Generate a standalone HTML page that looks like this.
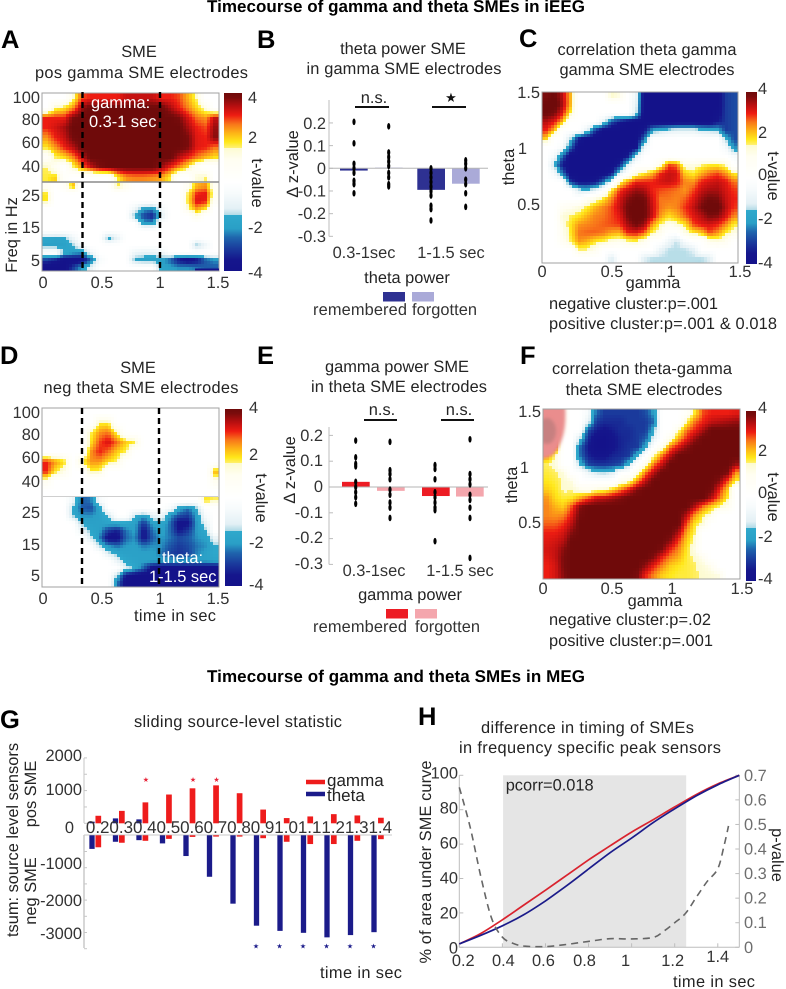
<!DOCTYPE html>
<html lang="en">
<head>
<meta charset="utf-8">
<title>Timecourse of gamma and theta SMEs</title>
<style>
html,body{margin:0;padding:0;background:#fff;overflow:hidden}
svg{display:block}
text{font-family:"Liberation Sans",sans-serif;font-size:16.4px;fill:#242424;text-rendering:geometricPrecision}
.letter{font-size:25.5px;font-weight:bold;fill:#000}
.head{font-size:17px;font-weight:bold;fill:#000}
.tick{fill:#333}
.grey{fill:#6e6e6e}
.mid{text-anchor:middle}
.end{text-anchor:end}
.white{fill:#fff}
</style>
</head>
<body>
<svg id="figure" xmlns="http://www.w3.org/2000/svg" width="786" height="989" viewBox="0 0 786 989">
<defs>
<filter id="soft" x="-20%" y="-20%" width="140%" height="140%"><feGaussianBlur stdDeviation="1.6"/></filter>
<clipPath id="panel-f-clip"><rect x="543" y="409" width="197" height="170"/></clipPath>
</defs>
<rect width="786" height="989" fill="#fff"/>
<g id="marks"></g>

<text class="head mid" x="396" y="12" textLength="378">Timecourse of gamma and theta SMEs in iEEG</text>
<text class="head mid" x="396" y="682" textLength="378">Timecourse of gamma and theta SMEs in MEG</text>

<text class="letter" x="1" y="48">A</text>
<text class="letter" x="257" y="48">B</text>
<text class="letter" x="519" y="47">C</text>
<text class="letter" x="0" y="364">D</text>
<text class="letter" x="257" y="364">E</text>
<text class="letter" x="520" y="364">F</text>
<text class="letter" x="0" y="728">G</text>
<text class="letter" x="418" y="725">H</text>

<!-- Panel A -->
<g>
<text class="mid" x="139" y="57">SME</text>
<text class="mid" x="141.5" y="78" textLength="213">pos gamma SME electrodes</text>
<text class="tick end" x="40" y="103">100</text>
<text class="tick end" x="40" y="125">80</text>
<text class="tick end" x="40" y="148">60</text>
<text class="tick end" x="40" y="172">40</text>
<text class="tick end" x="40" y="201">25</text>
<text class="tick end" x="40" y="233">15</text>
<text class="tick end" x="40" y="266">5</text>
<text class="mid" transform="translate(17 235) rotate(-90)">Freq in Hz</text>
<text class="tick mid" x="43" y="288">0</text>
<text class="tick mid" x="102" y="288">0.5</text>
<text class="tick mid" x="160" y="288">1</text>
<text class="tick mid" x="218" y="288">1.5</text>
<text class="tick" x="248" y="103">4</text>
<text class="tick" x="248" y="143">2</text>
<text class="tick" x="248" y="233">-2</text>
<text class="tick" x="248" y="278">-4</text>
<text class="mid" transform="translate(252 183) rotate(90)">t-value</text>
</g>

<!-- Panel B -->
<g>
<text class="mid" x="403" y="54">theta power SME</text>
<text class="mid" x="404" y="74" textLength="195">in gamma SME electrodes</text>
<text class="tick end" x="326" y="129">0.2</text>
<text class="tick end" x="326" y="151.500">0.1</text>
<text class="tick end" x="326" y="174">0</text>
<text class="tick end" x="326" y="196.500">-0.1</text>
<text class="tick end" x="326" y="219">-0.2</text>
<text class="tick end" x="326" y="242">-0.3</text>
<text class="mid" transform="translate(298 164) rotate(-90)">Δ z-value</text>
<text class="mid" x="374" y="103">n.s.</text>
<text class="mid" style="font-family:'DejaVu Sans',sans-serif;font-size:13px;fill:#111" x="451" y="102">★</text>
<text class="tick mid" x="364" y="258">0.3-1sec</text>
<text class="tick mid" x="451" y="258">1-1.5 sec</text>
<text class="mid" x="407" y="283">theta power</text>
<text class="tick" x="313" y="315" textLength="94">remembered</text>
<text class="tick" x="412" y="315" textLength="65">forgotten</text>
</g>

<!-- Panel C -->
<g>
<text class="mid" x="647" y="55" textLength="179">correlation theta gamma</text>
<text class="mid" x="647" y="75">gamma SME electrodes</text>
<text class="tick end" x="540" y="98">1.5</text>
<text class="tick end" x="527" y="154">1</text>
<text class="tick end" x="540" y="210">0.5</text>
<text class="mid" transform="translate(514 167) rotate(-90)">theta</text>
<text class="tick mid" x="542" y="277">0</text>
<text class="tick mid" x="612" y="277">0.5</text>
<text class="tick mid" x="671" y="277">1</text>
<text class="tick mid" x="740" y="277">1.5</text>
<text class="mid" x="653" y="288">gamma</text>
<text class="tick" x="758" y="94">4</text>
<text class="tick" x="758" y="138">2</text>
<text class="tick" x="758" y="180">0</text>
<text class="tick" x="758" y="224">-2</text>
<text class="tick" x="758" y="268">-4</text>
<text class="mid" transform="translate(768 176) rotate(90)">t-value</text>
<text x="549" y="309" textLength="169">negative cluster:p=.001</text>
<text x="549" y="329" textLength="228">positive cluster:p=.001 &amp; 0.018</text>
</g>

<!-- Panel D -->
<g>
<text class="mid" x="138" y="373">SME</text>
<text class="mid" x="141" y="393" textLength="195">neg theta SME electrodes</text>
<text class="tick end" x="40" y="418">100</text>
<text class="tick end" x="40" y="440">80</text>
<text class="tick end" x="40" y="463">60</text>
<text class="tick end" x="40" y="487">40</text>
<text class="tick end" x="40" y="518">25</text>
<text class="tick end" x="40" y="550">15</text>
<text class="tick end" x="40" y="581">5</text>
<text class="tick mid" x="43" y="604">0</text>
<text class="tick mid" x="102" y="604">0.5</text>
<text class="tick mid" x="160" y="604">1</text>
<text class="tick mid" x="218" y="604">1.5</text>
<text x="134" y="621" textLength="82">time in sec</text>
<text class="tick" x="249" y="413">4</text>
<text class="tick" x="249" y="460">2</text>
<text class="tick" x="249" y="548">-2</text>
<text class="tick" x="249" y="590">-4</text>
<text class="mid" transform="translate(256 498) rotate(90)">t-value</text>
</g>

<!-- Panel E -->
<g>
<text class="mid" x="397" y="372">gamma power SME</text>
<text class="mid" x="399" y="392" textLength="176">in theta SME electrodes</text>
<text class="tick end" x="323" y="441">0.2</text>
<text class="tick end" x="323" y="466">0.1</text>
<text class="tick end" x="323" y="492">0</text>
<text class="tick end" x="323" y="518">-0.1</text>
<text class="tick end" x="323" y="543">-0.2</text>
<text class="tick end" x="323" y="569">-0.3</text>
<text class="mid" transform="translate(295 470) rotate(-90)">Δ z-value</text>
<text class="mid" x="382" y="415">n.s.</text>
<text class="mid" x="459" y="415">n.s.</text>
<text class="tick mid" x="374" y="576">0.3-1sec</text>
<text class="tick mid" x="460" y="576">1-1.5 sec</text>
<text class="mid" x="410" y="600">gamma power</text>
<text class="tick" x="313" y="632" textLength="94">remembered</text>
<text class="tick" x="415" y="632" textLength="65">forgotten</text>
</g>

<!-- Panel F -->
<g>
<text class="mid" x="642" y="374" textLength="180">correlation theta-gamma</text>
<text class="mid" x="644" y="395">theta SME electrodes</text>
<text class="tick end" x="541" y="417">1.5</text>
<text class="tick end" x="529" y="473">1</text>
<text class="tick end" x="541" y="528">0.5</text>
<text class="mid" transform="translate(517 485) rotate(-90)">theta</text>
<text class="tick mid" x="543" y="594">0</text>
<text class="tick mid" x="612" y="594">0.5</text>
<text class="tick mid" x="672" y="594">1</text>
<text class="tick mid" x="742" y="594">1.5</text>
<text class="mid" x="655" y="606">gamma</text>
<text class="tick" x="758" y="413">4</text>
<text class="tick" x="758" y="456">2</text>
<text class="tick" x="758" y="498">0</text>
<text class="tick" x="758" y="542">-2</text>
<text class="tick" x="758" y="584">-4</text>
<text class="mid" transform="translate(768 497) rotate(90)">t-value</text>
<text x="549" y="625" textLength="162">negative cluster:p=.02</text>
<text x="549" y="646" textLength="164">positive cluster:p=.001</text>
</g>

<!-- Panel G -->
<g>
<text x="134" y="727" textLength="208">sliding source-level statistic</text>
<text class="mid" transform="translate(18 840) rotate(-90)">tsum: source level sensors</text>
<text class="mid" transform="translate(36 794) rotate(-90)">pos SME</text>
<text class="mid" transform="translate(36 891) rotate(-90)">neg SME</text>
<text class="tick end" x="82" y="761">2000</text>
<text class="tick end" x="82" y="795">1000</text>
<text class="tick end" x="74" y="833">0</text>
<text class="tick end" x="82" y="869">-1000</text>
<text class="tick end" x="82" y="906">-2000</text>
<text class="tick end" x="82" y="939">-3000</text>
<text style="font-size:17px" x="327" y="786">gamma</text>
<text style="font-size:17px" x="327" y="801">theta</text>
<text x="320" y="978" textLength="82">time in sec</text>
</g>

<!-- Panel H -->
<g>
<text class="mid" x="587.500" y="733" textLength="213">difference in timing of SMEs</text>
<text class="mid" x="590" y="753" textLength="262">in frequency specific peak sensors</text>
<text class="mid" transform="translate(431 862) rotate(-90)" textLength="203">% of area under SME curve</text>
<text class="mid" transform="translate(772 855) rotate(90)">p-value</text>
<text x="673" y="987" textLength="82">time in sec</text>
</g>
<g id="top-marks"></g>
</svg>

<script>
/* ---------- heatmap t-values ---------- */
const panelAGamma = [
[0,0,0,1.4,2.8,3,3,3,3,3.3,3.3,3.3,3.3,3,3,2.8,2.2,1.5,0,0],
[0,1.5,1.8,2.4,3.6,4,4,4,4,4,4,4,4,4,3.5,3,2.5,1.9,1.2,0],
[3,3,3,3.8,4,4,4,4,4,4,4,4,4,4,4,3.8,3.2,2.6,2.4,3.3],
[3,3.2,3.5,4,4,4,4,4,4,4,4,4,4,4,4,4,3.5,3,2.8,3.6],
[2.4,3,3.3,3.9,4,4,4,4,4,4,4,4,4,4,4,4,3.8,3.1,3,3.7],
[1.8,2.4,3,3.4,4,4,4,4,4,4,4,4,4,4,4,4,3.8,3.1,3,2.6],
[0.5,1.6,1.9,2.5,3.3,4,4,4,4,4,4,4,4,4,4,3.4,3,2.6,2.2,1.9],
[1.6,0.8,0,1.5,2.5,3.3,3.8,4,4,4,4,4,4,3.6,3,2.5,1.8,0.5,0,0],
[1.7,2,0.5,0,0,0,0,0,1.7,2.4,2.5,2.5,2.4,2.3,1.7,0,0,1.4,1.6,0]
];
const panelATheta = [
[0.8,0,0.6,2.2,0,0,0,0,1.8,0.9,0,0,0,0,0,0,1,2.2,2.4,0.8],
[1.8,0,0,0,0,0,0,0,0,0,0,0,0,0,0,0,1.7,3,3.1,1],
[1.8,0,0,0,0,0,0,0,0,0,0,0,0,0,0,0,1.8,3.2,3,0.6],
[0,0,0,0,0,0,0,0,0,0,-0.8,-2,-2.2,-0.6,0,0,1.5,2.4,1.8,0],
[0,0,0,0,0,0,0,0,0,0,-1.9,-2.9,-3.4,-1.2,0,0,0,1.2,0,0],
[0,0,0,0,0,0,0,0,0,0,0,-2,-2,0,0,0,0,0,0,0],
[0,0,0,0,0,0,0,0,0,0,0,0,0,0,0,0,0,0,0,0],
[-1.6,-1.8,-1.7,-0.8,0,0,0,-1.8,-1,0,0,0,0,0,0,0,0,0,0,0],
[-2,-2,-2,-1.6,-0.6,0,0,0,0,0,0,0,0,0,0,0,0,-1.7,-0.8,0],
[0,0,-1.6,-2,-2.2,-0.8,0,0,0,0,-0.8,-1,-1,-0.8,0,0,0,0,0,0],
[-3,-3.4,-4,-4,-4,-2.6,-0.5,0,0,0,-1.8,-2,-2,-2,-2.6,-3.6,-4,-3.6,-2.6,-2.2],
[-4,-4,-4,-3,-2,-1,0,0,0,0,0,0,0,-1.8,-2,-2.2,-2.2,-2.4,-2.6,-2.6]
];
const panelCCorrelation = [
[3.8,4,3.4,2.2,0,0,0,0,1.6,1.2,0,-0.8,-4,-4,-4,-4,-4,-4,-4,-4,-4,-4,-3,-2.8],
[4,4.2,3.5,2.2,0,0,0,0,0,0,0,-1,-4,-4,-4,-4,-4,-4,-4,-4,-4,-4,-3,-2.8],
[4,3.8,3.1,1.7,0,0,0,0,0,0,0,-1.2,-4,-4,-4,-4,-4,-4,-4,-4,-4,-3.8,-3,-2.8],
[3.4,3.1,2.2,0,0,0,0,-1,-2.8,-3.5,-4,-4,-4,-4,-4,-4,-4,-4,-4,-4,-4,-3.5,-3,-2.8],
[3,2.2,0,0,0,-1,-3,-4,-4,-4,-4,-4,-3.6,-2,-1.6,-1.2,-1,-1,-1,-1.4,-1.6,-1.7,-3,-2.8],
[2,0,0,-1.5,-3.5,-4,-4,-4,-4,-4,-4,-4,-2.5,0,0,0,0,0,0,0,0,0,-1.6,-2.8],
[0,0,-0.5,-2.5,-4,-4,-4,-4,-4,-4,-4,-3.8,-0.8,0,0,0,0,0,0,0,0,0,-0.5,-2.2],
[0,-0.5,-2.5,-4,-4,-4,-4,-4,-4,-4,-3.5,-1.2,0,0,0,0,0,0,0,0,0,0,0,-0.5],
[0,-1.6,-3.5,-4,-4,-4,-4,-4,-4,-3.4,-1.2,0,0,0,1.2,2.8,2.6,1.2,1.2,1.5,1.7,1.7,1.4,0],
[0,-0.5,-2.4,-4,-4,-4,-4,-4,-3.6,-1.2,0,1.2,1.7,2.2,3,3.3,3.2,2,1.7,2.2,2.6,2.8,2.4,1.7],
[0,0,0,-3,-3.8,-3.8,-3.6,-2.5,-0.8,1.5,2.4,3,3,3,3.2,3.3,3.1,2.5,2.4,3,3.2,3.3,3.1,2.6],
[0,0,0,0,-1.2,-1.4,-1,0,1.8,2.9,3.3,3.6,3.5,3,2.8,2.7,2.6,2.4,2.8,3.3,3.5,3.5,3.2,2.9],
[0,0,0,0,0,0.8,1.2,1.8,2.5,3.2,3.7,4,3.9,3.2,2.6,2.6,2.5,2.7,3.1,3.6,3.9,3.8,3.3,3],
[0,0,0.8,1,1.3,1.7,2.2,2.5,2.8,3.3,3.9,4.2,4,3.3,2.6,2.4,2.5,2.9,3.3,3.8,4.2,4.1,3.4,2.9],
[0,0,1.4,1.6,1.8,2.2,2.5,2.6,2.8,3.1,3.8,4.2,4,3.3,2.4,1.9,2.2,2.7,3.1,3.4,3.8,3.7,3.2,2.5],
[0,0,1.2,1.8,2.4,2.5,2.6,2.7,2.8,2.9,3.5,3.9,3.6,2.4,1.6,1,1.4,1.8,2.8,3.1,3.2,3,2.5,1.7],
[0,0,1,1.8,2.6,2.7,2.7,2.6,2.3,2.2,3,3.1,2.7,1.6,1,0,0,1.2,1.7,2,2.8,2.4,1.7,1.2],
[0,0,0.8,1.6,2.4,2.2,1.8,1.6,1.2,1,1.4,1.6,1,0,0,-0.8,-1.45,-0.5,0,0,1,1.2,1,0],
[0,0,0,0,1.5,1.5,1,0,0,0,0,0,0,0,-1,-1.45,-1.45,-1.45,-1.2,0,0,0,0,0],
[0,0,0,0,0,0,0,0,-1.3,0,0,0,-1.2,-1.45,-1.45,-1.45,-1.45,-1.45,-1.45,-1.48,-1.2,0,0,0]
];
const panelDGamma = [
[0,0,0,0,0,0,0,0,0,0,0,0,0,0,0,0,0,0,0,0],
[0,0,0,0,0,0,1.7,1.7,0,0,0,0,0,0,0,0,0,0,0,0],
[0,0,0,0,0,1.6,2.4,2.6,1.6,0,0,0,0,0,0,0,0,0,0,0],
[0,0,0,0,0,1.8,2.8,3.2,2.6,2,1.7,0,0,0,0,0,0,0,0,0],
[0,0,0,0,0,2.4,3,2.6,2,1.6,0,0,0,0,0,0,0,0,0,0],
[3,2.4,1.9,0,1.7,2.4,2.4,1.9,1.5,0,0,0,0,0,0,0,0,0,0,0],
[3,1.8,1.2,0,0,1.7,1.6,0,0,0,0,0,0,0,0,0,0,0,0,2.2],
[1,0,0,0,0,0,0,0,0,0,0,0,0,0,0,0,0,0,0,1],
[0,0,0,0,0,0,0,0,0,0,0,0,0,0,0,0,0,0,0,0]
];
const panelDTheta = [
[0,0,0,-0.8,-2.6,-2.4,-0.5,0,0,0,0,0,0,0,0,0,0,0,1.8,1.6],
[0,0,0,-1.7,-2.6,-2.8,-1.9,0,0,0,0,0,0,0,-0.5,-1.8,-2.4,-1.6,0,0],
[0,0,0,-1.6,-2.2,-2.2,-2,-1.4,0,0,-1.4,-2,-1,-0.8,-2.1,-2.8,-3,-2,-0.5,0],
[0,0,0,0,-1.7,-2,-2,-1.8,-1.7,-1.7,-2,-3,-2,-1.7,-2.5,-3.8,-3.6,-2.1,-1,0],
[0,0,0,0,-0.8,-1.8,-2,-3,-3.4,-2.4,-2,-3.6,-2.4,-1.9,-2.5,-3.5,-3,-2.1,-1.6,0],
[0,0,0,0,0,-1.2,-2.3,-3.8,-3.8,-2.5,-2.2,-3.6,-2.6,-2.1,-2.4,-2.8,-2.6,-2.2,-2,-1],
[0,0,0,0,0,0,-1.5,-2.2,-2.5,-2.1,-2,-2.4,-2.2,-2.2,-2.7,-3,-2.8,-2.4,-2.2,-1.6],
[0,0,0,0,0,0,0,-1.3,-1.8,-2,-2,-2,-2,-2.4,-2.9,-3.1,-2.9,-2.3,-2,-1.6],
[0,0,0,0,0,0,0,0,-1,-1.7,-1.9,-2,-2,-2,-2,-2,-2,-2,-2,-1.9],
[0,0,0,0,0,0,0,0,0,-1.2,-1.7,-2.6,-3.8,-4,-4,-4,-4,-4,-4,-4],
[0,0,0,0,0,0,0,0,-1.6,-3.6,-4,-4,-4,-4,-4,-4,-4,-4,-4,-4],
[0,0,0,0,0,0,0,0,-2.4,-4,-4,-4,-4,-4,-4,-4,-4,-4,-4,-4]
];
const panelFCorrelation = [
[3,3,1,0,0,-0.5,-2.5,-3,-3,-3,-3,-3,-2.8,-2,0,0,0,0.5,1.8,2.8,3,3,3,3.1],
[3,3,1,0,0,-1,-3,-3.2,-3.2,-3.2,-3,-3,-3,-2.5,0,0,0,1.6,2.6,3,3.3,3.4,3.5,3.6],
[3,3,0.8,0,0,-2.8,-3.4,-3.6,-3.4,-3.2,-3.2,-3,-3,-1.7,0,0,1.4,2.6,3,3.5,4,4,4,4],
[3,3,0,0,-1.4,-3.2,-3.9,-4,-3.6,-3.3,-3.2,-3,-2.6,-1,0,1.2,2.3,3,3.6,4,4,4,4,4],
[3,3,0,0,-2.5,-3.5,-4,-4,-3.6,-3.3,-3.1,-3,-1.8,0,1.2,2.6,3.2,3.7,4,4,4,4,4,4],
[2.4,1.4,0,0,-2.4,-3.3,-3.6,-3.6,-3.3,-3.2,-3,-1.6,0,1.4,2.6,3.4,4,4,4,4,4,4,4,4],
[1.6,1.4,0,0,-1.6,-2.9,-3.1,-3.1,-3,-2.8,-1.5,0,1.2,2.6,3.3,4,4,4,4,4,4,4,4,3.6],
[1.7,1.6,1.4,0,0,-0.8,-1.4,-1.5,-1.2,0,0,1.2,2.6,3.4,4,4,4,4,4,4,4,4,3.8,2.4],
[1.8,1.7,1.5,1.3,0,0,0,0,0,1,1.4,2.5,3.4,4,4,4,4,4,4,4,4,3.7,2.8,1.7],
[2,1.8,1.5,1.5,1.2,1,1.3,1.5,2,2.6,3.2,3.8,4,4,4,4,4,4,4,4,3.9,3,2,0],
[2.4,1.9,1.7,1.8,2.3,2.8,3.3,3.4,3.6,3.8,4,4,4,4,4,4,4,4,4,4,3.4,2.6,1.7,0],
[2.5,2.2,2,2.8,3.7,4,4,4,4,4,4,4,4,4,4,4,4,4,3.4,2.6,2,1.5,1,0],
[2.5,2.4,2.5,3.1,3.9,4,4,4,4,4,4,4,4,4,4,4,4,3.4,2.4,1.7,1.2,0,0,0],
[2.7,2.7,2.9,3.4,4,4,4,4,4,4,4,4,4,4,4,4,4,2.8,1.8,1.4,0,0,0,0],
[3,3,3.2,3.7,4,4,4,4,4,4,4,4,4,4,4,4,3.5,2.3,1.6,0,0,0,0,0],
[3.1,3.2,3.4,4,4,4,4,4,4,4,4,4,4,4,4,3.7,2.9,2,1.4,0,0,0,0,0],
[3.2,3.3,3.7,4,4,4,4,4,4,4,4,4,4,4,3.8,3,2.5,1.8,1.2,0,0,0,0,0],
[3.1,3.3,3.8,4,4,4,4,4,4,4,4,4,4,3.7,3,2.5,2.2,1.7,1.5,1,0,0,0,0],
[3,3.2,3.8,4,4,4,4,4,4,4,4,4,3.6,3,2.5,2,1.8,1.7,1.6,1.4,1,0,0,0],
[3,3.2,3.7,4,4,4,4,4,4,4,4,3.8,3,2.5,2,1.8,1.7,1.7,1.6,1.5,1.4,1.2,0,0]
];

/* ---------- bar-chart values ---------- */
const panelBCategories = ['0.3-1sec remembered','0.3-1sec forgotten','1-1.5sec remembered','1-1.5sec forgotten'];
const panelBMeans = [-0.01,0.003,-0.095,-0.068];
const panelBDots1 = [0.205,0.11,0.02,0,-0.02,-0.055,-0.07,-0.11];
const panelBDots2 = [0.185,0.07,0.05,0.03,0.01,-0.02,-0.04,-0.07,-0.08];
const panelBDots3 = [0,-0.02,-0.04,-0.06,-0.08,-0.1,-0.12,-0.165,-0.18,-0.23];
const panelBDots4 = [0.035,0.02,0,-0.05,-0.07,-0.11,-0.17];
const panelEMeans = [0.02,-0.015,-0.035,-0.037];
const panelEDots1 = [0.18,0.115,0.09,0.08,0.02,0,-0.02,-0.04,-0.065];
const panelEDots2 = [0.175,0.065,0.05,0.03,-0.01,-0.03,-0.06,-0.08,-0.12];
const panelEDots3 = [0.085,0.07,0.03,-0.02,-0.04,-0.06,-0.08,-0.09,-0.21];
const panelEDots4 = [0.185,0.05,0.03,0.01,-0.03,-0.05,-0.08,-0.12,-0.275];

/* ---------- panel G ---------- */
const slidingTimes = ['0.2','0.3','0.4','0.5','0.6','0.7','0.8','0.9','1.0','1.1','1.2','1.3','1.4'];
const thetaPos = [50,150,120,0,0,0,0,0,0,0,0,0,0];
const thetaNeg = [-420,-200,-150,-250,-640,-1280,-2110,-2790,-2950,-3010,-3150,-3080,-2990];
const gammaPos = [230,380,640,880,1070,1160,920,420,160,210,280,240,170];
const gammaNeg = [-370,-230,-170,-110,-50,-40,-40,-90,-200,-270,-270,-170,-120];
const gammaSignificant = ['0.4','0.6','0.7'];
const thetaSignificant = ['0.9','1.0','1.1','1.2','1.3','1.4'];
const slidingUpperTicks = [0,500,1000,1500,2000];
const slidingLowerTicks = [-500,-1000,-1500,-2000,-2500,-3000,-3500];

/* ---------- panel H ---------- */
const areaTimes = [0.2,0.3,0.4,0.5,0.6,0.7,0.8,0.9,1.0,1.1,1.2,1.3,1.4,1.5];
const gammaArea = [2,8,16,24.6,33.2,42,50.8,59,67,74.2,81.6,88.8,95,100];
const thetaArea = [2,7,12.5,19,27,36,45.5,55,63.5,72.5,80.5,88,94.5,100];
const pTimes = [0.2,0.25,0.3,0.35,0.4,0.45,0.5,0.6,0.7,0.8,0.9,1.0,1.1,1.15,1.2,1.25,1.3,1.35,1.4,1.43,1.45];
const pValues = [0.651,0.49,0.288,0.118,0.041,0.016,0.005,0.003,0.012,0.024,0.035,0.034,0.04,0.066,0.1,0.138,0.203,0.267,0.32,0.416,0.494];
const areaTicks = [0,20,40,60,80,100];
const pTicks = ['0','0.1','0.2','0.3','0.4','0.5','0.6','0.7'];
const hTimeTicks = ['0.2','0.4','0.6','0.8','1','1.2','1.4'];
const hLabelNudge = [4,1,-2,-4,-6,-2,0];
const significantWindow = [0.4,1.25];
const pcorrLabel = 'pcorr=0.018';

/* ---------- colour map ---------- */
const cmapStops = [
[-4,20,18,138],[-3.5,21,22,140],[-3,26,58,156],[-2.5,31,101,173],[-2.1,42,159,198],[-1.5,47,169,204],
[-1.499,176,218,230],[-1.2,227,240,245],[-0.5,247,251,252],[0,255,255,255],[1,255,254,242],[1.549,253,251,208],
[1.55,255,240,110],[1.8,255,232,26],[2.2,253,180,22],[2.6,248,118,26],[3,238,28,18],[3.4,184,15,16],[3.8,122,12,12],[4,111,10,10]
];
function tColor(t){
  if(t<=cmapStops[0][0]){const s=cmapStops[0];return 'rgb('+s[1]+','+s[2]+','+s[3]+')';}
  for(let i=1;i<cmapStops.length;i++){
    const b=cmapStops[i];
    if(t<=b[0]){
      const a=cmapStops[i-1],f=(t-a[0])/(b[0]-a[0]);
      return 'rgb('+Math.round(a[1]+f*(b[1]-a[1]))+','+Math.round(a[2]+f*(b[2]-a[2]))+','+Math.round(a[3]+f*(b[3]-a[3]))+')';
    }
  }
  const s=cmapStops[cmapStops.length-1];
  return 'rgb('+s[1]+','+s[2]+','+s[3]+')';
}

const NS='http://www.w3.org/2000/svg';
const marks=document.getElementById('marks');
const overlay=document.getElementById('top-marks');
function make(tag,parent,props){
  const el=document.createElementNS(NS,tag);
  for(const k in props){el.setAttribute(k,props[k]);}
  parent.appendChild(el);
  return el;
}
function sample(m,u,v){
  const rows=m.length,cols=m[0].length;
  const cx=Math.max(0,Math.min(cols-1,u*cols-0.5)),cy=Math.max(0,Math.min(rows-1,v*rows-0.5));
  const x0=Math.floor(cx),y0=Math.floor(cy),x1=Math.min(cols-1,x0+1),y1=Math.min(rows-1,y0+1);
  const fx=cx-x0,fy=cy-y0;
  return (m[y0][x0]*(1-fx)+m[y0][x1]*fx)*(1-fy)+(m[y1][x0]*(1-fx)+m[y1][x1]*fx)*fy;
}
function heatmap(matrix,x,y,w,h,name){
  const g=make('g',marks,{});
  
  
  const step=3;
  for(let py=0;py<h;py+=step){
    const ch=Math.min(step,h-py);
    let runStart=0,runColor=null;
    const flush=(end)=>{
      if(runColor===null)return;
      const cell=make('rect',g,{x:x+runStart,y:y+py,width:end-runStart,height:ch,fill:runColor,'shape-rendering':'crispEdges'});
      
      
    };
    for(let px=0;px<w;px+=step){
      const col=tColor(sample(matrix,(px+step/2)/w,(py+ch/2)/h));
      if(col!==runColor){flush(px);runStart=px;runColor=col;}
    }
    flush(w);
  }
}
function frame(x,y,w,h,name){
  const el=make('rect',marks,{x:x,y:y,width:w,height:h,fill:'none',stroke:'#a0a0a0','stroke-width':1});
  
  
}
function colorbar(x,y,w,h,name){
  const g=make('g',marks,{});
  
  
  for(let i=0;i<h;i++){
    const seg=make('rect',g,{x:x,y:y+i,width:w,height:1.2,fill:tColor(4-8*(i+0.5)/h),'shape-rendering':'crispEdges'});
    
    
  }
}
function dashes(x,y1,y2,name){
  const el=make('line',overlay,{x1:x,x2:x,y1:y1,y2:y2,stroke:'#000','stroke-width':2.4,'stroke-dasharray':'6 4'});
  
  
}
function line(parent,x1,y1,x2,y2,color,width,name){
  const el=make('line',parent,{x1:x1,y1:y1,x2:x2,y2:y2,stroke:color,'stroke-width':width});
  
  
  return el;
}
function svgText(parent,str,x,y,cls,name){
  const el=make('text',parent,{x:x,y:y,class:cls});
  el.textContent=str;
  
  
  return el;
}

/* ---------- heatmaps ---------- */
heatmap(panelAGamma,42,93,177,89,'panel-a-gamma-heatmap');
heatmap(panelATheta,42,183,177,88,'panel-a-theta-heatmap');
frame(42,93,177,178,'panel-a-frame');
line(marks,42,182,219,182,'#8c8c8c',1.4,'panel-a-separator');
const aBottomBar=make('rect',marks,{x:195,y:268.500,width:24,height:2,fill:'#15128a'});


colorbar(224,93,18,178,'panel-a-colorbar');
dashes(82.5,92,271,'panel-a-window-start');
dashes(160,92,271,'panel-a-window-end');
svgText(overlay,'gamma:',91,108,'white','panel-a-gamma-window-label');
svgText(overlay,'0.3-1 sec',89,127,'white','panel-a-gamma-window-range');

heatmap(panelCCorrelation,542,92,196,171,'panel-c-correlation-heatmap');
frame(542,92,196,171,'panel-c-frame');
colorbar(746,92,11,172,'panel-c-colorbar');

heatmap(panelDGamma,42,408,177,88,'panel-d-gamma-heatmap');
heatmap(panelDTheta,42,497,177,90,'panel-d-theta-heatmap');
frame(42,408,177,179,'panel-d-frame');
line(marks,42,496.500,219,496.500,'#cfcfcf',1,'panel-d-separator');
colorbar(225,409,17,177,'panel-d-colorbar');
dashes(82,408,587,'panel-d-window-start');
dashes(159,408,587,'panel-d-window-end');
svgText(overlay,'theta:',162,563,'white','panel-d-theta-window-label');
svgText(overlay,'1-1.5 sec',149,582,'white','panel-d-theta-window-range');

heatmap(panelFCorrelation,543,409,197,170,'panel-f-correlation-heatmap');
const washGroup=make('g',marks,{'clip-path':'url(#panel-f-clip)'});


const wash=make('path',washGroup,{d:'M538 404 H565 Q568 440 552 456 L538 460 Z',fill:'#ea8d8d',filter:'url(#soft)'});


const washCore=make('ellipse',washGroup,{cx:547,cy:431,rx:9,ry:13,fill:'#c78080',filter:'url(#soft)'});


frame(543,409,197,170,'panel-f-frame');
colorbar(746,411,10,170,'panel-f-colorbar');

/* ---------- grouped bar panels ---------- */
function barPanel(cfg){
  const y=v=>cfg.zero-v*cfg.scale;
  line(marks,329,cfg.top,329,y(-0.3),'#bdbdbd',1,cfg.id+'-y-axis');
  [0.2,0.1,0,-0.1,-0.2,-0.3].forEach(t=>{
    line(marks,329,y(t),333,y(t),'#bdbdbd',1,cfg.id+'-y-tick-mark');
  });
  cfg.means.forEach((m,i)=>{
    const bar=make('rect',marks,{x:cfg.barX[i],y:Math.min(y(m),y(0)),width:27.7,height:Math.abs(y(m)-y(0)),fill:cfg.colors[i%2]});
    
    
  });
  line(marks,329,y(0),488,y(0),'#b5b5b5',1,cfg.id+'-zero-line');
  cfg.dots.forEach((group,i)=>{
    group.forEach(v=>{
      const dot=make('ellipse',overlay,{cx:cfg.dotX[i],cy:y(v),rx:1.6,ry:3.3,fill:'#000'});
      
      
    });
  });
  cfg.sig.forEach(s=>{line(marks,s[0],s[2],s[1],s[2],'#111',2,cfg.id+'-significance-bar');});
  cfg.legend.forEach((l,i)=>{
    const sw=make('rect',marks,{x:l,y:cfg.legendY,width:22,height:9.5,fill:cfg.colors[i]});
    
    
  });
}
barPanel({id:'panel-b',zero:168.3,scale:226.8,top:100,means:panelBMeans,colors:['#2e3192','#aaaad8'],
  barX:[340,375,417.3,452],dotX:[354,388.7,431,465.7],dots:[panelBDots1,panelBDots2,panelBDots3,panelBDots4],
  sig:[[355,389,107],[432,466,107]],legend:[383,412],legendY:292});
barPanel({id:'panel-e',zero:487,scale:258,top:427,means:panelEMeans,colors:['#ed1c24','#f4a6ad'],
  barX:[342,377,422,456],dotX:[355.7,390,435,470],dots:[panelEDots1,panelEDots2,panelEDots3,panelEDots4],
  sig:[[364,397,420],[441,474,420]],legend:[386,415],legendY:609});

/* ---------- panel G ---------- */
const gUpperZero=823.3, gLowerZero=835.3, gUpperScale=0.0327, gLowerScale=0.0324;
const gUpperY=v=>gUpperZero-v*gUpperScale;
const gLowerY=v=>gLowerZero-v*gLowerScale;
const gThetaX=i=>92+i*23.5;
const gGammaX=i=>98.3+i*23.55;
line(marks,84,758,84,823,'#c6c6c6',1,'panel-g-y-axis-upper');
line(marks,84,835,84,948,'#c6c6c6',1.4,'panel-g-y-axis-lower');
slidingUpperTicks.forEach(t=>{line(marks,84,gUpperY(t),87,gUpperY(t),'#c6c6c6',1,'panel-g-y-tick-mark');});
slidingLowerTicks.forEach(t=>{line(marks,84,gLowerY(t),87,gLowerY(t),'#c6c6c6',1,'panel-g-y-tick-mark');});
line(marks,84,835,392,835,'#c8c8c8',1,'panel-g-zero-line');
slidingTimes.forEach((label,i)=>{
  const bars=[
    [gThetaX(i),2.65,gUpperY(thetaPos[i]),gUpperY(0),'#1b1b8a','panel-g-theta-pos-bar'],
    [gThetaX(i),2.65,gLowerY(0),gLowerY(thetaNeg[i]),'#1b1b8a','panel-g-theta-neg-bar'],
    [gGammaX(i),2.85,gUpperY(gammaPos[i]),gUpperY(0),'#ee1c1c','panel-g-gamma-pos-bar'],
    [gGammaX(i),2.85,gLowerY(0),gLowerY(gammaNeg[i]),'#ee1c1c','panel-g-gamma-neg-bar']
  ];
  bars.forEach(b=>{
    if(b[3]-b[2]<=0)return;
    const bar=make('rect',marks,{x:b[0]-b[1],y:b[2],width:b[1]*2,height:b[3]-b[2],fill:b[4]});
    
    
  });
  const t=svgText(overlay,label,97.7+i*23.55,833,'tick mid','panel-g-x-tick');
  t.style.fontSize='17px';
  if(gammaSignificant.indexOf(label)>=0){
    const s=svgText(overlay,'★',gGammaX(i)+0.5,782,'mid','panel-g-gamma-star');
    s.style.fontFamily="'DejaVu Sans',sans-serif";
    s.style.fontSize='7px';
    s.style.fill='#e8253a';
  }
  if(thetaSignificant.indexOf(label)>=0){
    const s=svgText(overlay,'★',gThetaX(i)-0.5,948.500,'mid','panel-g-theta-star');
    s.style.fontFamily="'DejaVu Sans',sans-serif";
    s.style.fontSize='7px';
    s.style.fill='#1b1b8a';
  }
});
line(marks,306,782,325,782,'#ee1c1c',4.5,'panel-g-legend-gamma-line');
line(marks,306,794,325,794,'#1b1b8a',4.5,'panel-g-legend-theta-line');

/* ---------- panel H ---------- */
const hX=t=>459.3+(t-0.2)*215.4;
const hY=v=>947.3-v*1.72;
const hP=p=>947.3-p*245.7;
function smooth(xs,ys){
  let d='M'+xs[0].toFixed(1)+' '+ys[0].toFixed(1);
  for(let i=0;i<xs.length-1;i++){
    const p0=Math.max(0,i-1),p3=Math.min(xs.length-1,i+2);
    const c1x=xs[i]+(xs[i+1]-xs[p0])/6,c1y=ys[i]+(ys[i+1]-ys[p0])/6;
    const c2x=xs[i+1]-(xs[p3]-xs[i])/6,c2y=ys[i+1]-(ys[p3]-ys[i])/6;
    d+=' C'+c1x.toFixed(1)+' '+c1y.toFixed(1)+' '+c2x.toFixed(1)+' '+c2y.toFixed(1)+' '+xs[i+1].toFixed(1)+' '+ys[i+1].toFixed(1);
  }
  return d;
}
const band=make('rect',marks,{x:hX(significantWindow[0])+0.7,y:hY(100),width:hX(significantWindow[1])-hX(significantWindow[0]),height:172,fill:'#e5e5e5'});


line(marks,hX(0.2),hY(0),hX(1.5),hY(0),'#bdbdbd',1,'panel-h-x-axis');
line(marks,hX(0.2),hY(0),hX(0.2),hY(100),'#bdbdbd',1,'panel-h-left-axis');
line(marks,hX(1.5),hY(0),hX(1.5),hY(100),'#bdbdbd',1,'panel-h-right-axis');
areaTicks.forEach(t=>{
  line(marks,hX(0.2),hY(t),hX(0.2)+4,hY(t),'#bdbdbd',1,'panel-h-left-tick-mark');
  svgText(marks,String(t),458,hY(t)+6.4-3*t/100,'tick end','panel-h-left-tick');
});
pTicks.forEach(label=>{
  const p=parseFloat(label);
  line(marks,hX(1.5)-4,hP(p),hX(1.5),hP(p),'#bdbdbd',1,'panel-h-right-tick-mark');
  svgText(marks,label,744,hP(p)+5.5,'grey','panel-h-right-tick');
});
hTimeTicks.forEach((label,i)=>{
  const t=parseFloat(label);
  line(marks,hX(t),hY(0)-4,hX(t),hY(0),'#bdbdbd',1,'panel-h-x-tick-mark');
  svgText(marks,label,hX(t)+hLabelNudge[i],label==='1.4'?962:966,'tick mid','panel-h-x-tick');
});
const gammaCurve=make('path',overlay,{d:smooth(areaTimes.map(hX),gammaArea.map(hY)),fill:'none',stroke:'#d9232e','stroke-width':1.7});


const thetaCurve=make('path',overlay,{d:smooth(areaTimes.map(hX),thetaArea.map(hY)),fill:'none',stroke:'#1b1b8a','stroke-width':1.7});


const pCurve=make('path',overlay,{d:smooth(pTimes.map(hX),pValues.map(hP)),fill:'none',stroke:'#666','stroke-width':1.6,'stroke-dasharray':'7 5'});


svgText(overlay,pcorrLabel,505.7,790.7,'','panel-h-pcorr-label');
</script>
</body>
</html>
